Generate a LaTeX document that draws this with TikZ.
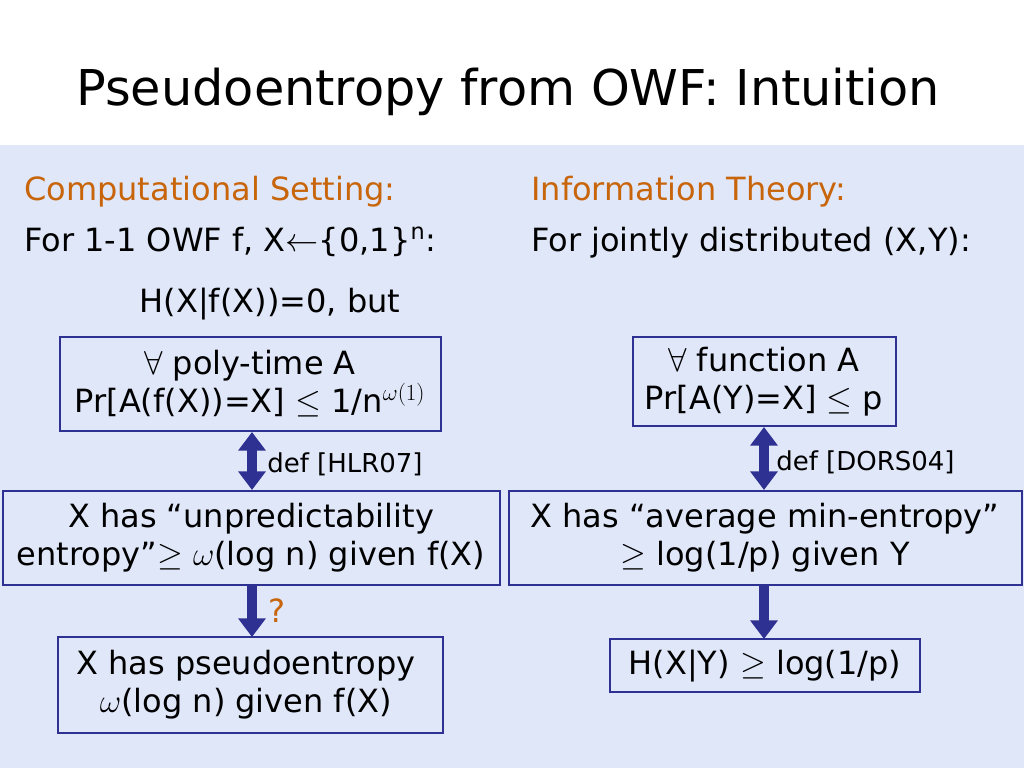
\documentclass[tikz,border=0pt]{standalone}
\usepackage{fontspec}
\setmainfont{DejaVu Sans}
\usetikzlibrary{arrows.meta}
\begin{document}
\begin{tikzpicture}[x=0.75pt,y=-0.75pt,
  bx/.style={draw=boxblue,line width=2pt,inner sep=0pt},
  tx/.style={font=\fontsize{24}{28.5}\selectfont,inner sep=0pt,align=center},
  sm/.style={font=\fontsize{19.5}{23}\selectfont,inner sep=0pt},
  ar/.style={draw=boxblue,line width=7pt,-{Triangle[length=14pt,width=20pt]}},
  dar/.style={draw=boxblue,line width=7pt,{Triangle[length=14pt,width=20pt]}-{Triangle[length=14pt,width=20pt]}}]
\definecolor{boxblue}{HTML}{2E3192}
\definecolor{bgblue}{HTML}{DFE7F9}
\definecolor{org}{HTML}{C8650A}
\useasboundingbox (0,0) rectangle (1024,768);
\fill[white] (0,0) rectangle (1024,145);
\fill[bgblue] (0,145) rectangle (1024,768);
\node[font=\fontsize{37}{44}\selectfont,anchor=west,inner sep=0pt] (title) at (76,92) {Pseudoentropy from OWF: Intuition};
\node[tx,anchor=west,text=org] (cs) at (24,192) {Computational Setting:};
\node[tx,anchor=west] (f1) at (24,242) {For 1-1 OWF f, X$\leftarrow$\{0,1\}$^{\mathrm{n}}$:};
\node[tx,anchor=west,text=org] (it) at (531,192) {Information Theory:};
\node[tx,anchor=west] (fj) at (531,243) {For jointly distributed (X,Y):};
\node[tx] (h0) at (270,304) {H(X|f(X))=0, but};
\draw[bx] (60,337) rectangle (441,431);
\node[tx] (ta) at (250,384) {$\forall$ poly-time A\\Pr[A(f(X))=X] $\le$ 1/n$^{\omega(1)}$};
\draw[bx] (633,337) rectangle (896,426);
\node[tx] (tb) at (764,382) {$\forall$ function A\\Pr[A(Y)=X] $\le$ p};
\draw[bx] (3,491) rectangle (500,585);
\node[tx] (tc) at (251,538) {X has “unpredictability\\entropy”$\ge$ $\omega$(log n) given f(X)};
\draw[bx] (509,491) rectangle (1022,585);
\node[tx] (td) at (765,538) {X has “average min-entropy”\\$\ge$ log(1/p) given Y};
\draw[bx] (58,637) rectangle (443,733);
\node[tx] (te) at (246,685) {X has pseudoentropy\\$\omega$(log n) given f(X)};
\draw[bx] (610,639) rectangle (920,692);
\node[tx] (tf) at (765,666) {H(X|Y) $\ge$ log(1/p)};
\coordinate (la1) at (252,432); \coordinate (la2) at (252,490);
\coordinate (ra1) at (764,427); \coordinate (ra2) at (764,490);
\coordinate (lb1) at (252,586); \coordinate (lb2) at (252,637);
\coordinate (rb1) at (764,586); \coordinate (rb2) at (764,639);
\draw[dar] (la1) -- (la2);
\draw[dar] (ra1) -- (ra2);
\draw[ar] (lb1) -- (lb2);
\draw[ar] (rb1) -- (rb2);
\node[sm,anchor=west] (d1) at (267,464) {def [HLR07]};
\node[sm,anchor=west] (d2) at (776,462) {def [DORS04]};
\node[tx,text=org,anchor=west] (q) at (268,611) {?};
\end{tikzpicture}
\end{document}
